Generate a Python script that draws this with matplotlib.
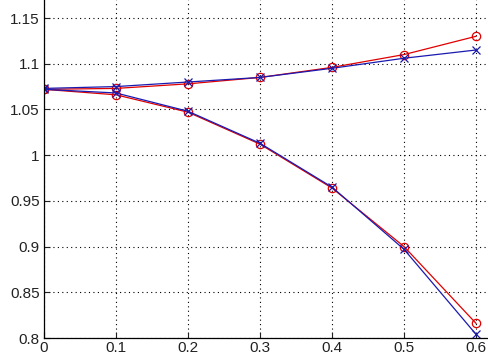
import matplotlib
matplotlib.use("Agg")
import matplotlib.pyplot as plt
from matplotlib.ticker import FuncFormatter

x = [0, 0.1, 0.2, 0.3, 0.4, 0.5, 0.6]
upper_red = [1.072, 1.073, 1.078, 1.085, 1.096, 1.110, 1.130]
upper_blue = [1.073, 1.075, 1.080, 1.085, 1.095, 1.106, 1.115]
lower_red = [1.072, 1.066, 1.047, 1.012, 0.964, 0.900, 0.816]
lower_blue = [1.072, 1.068, 1.048, 1.013, 0.965, 0.897, 0.804]
xticks = [0, 0.1, 0.2, 0.3, 0.4, 0.5, 0.6]
yticks = [0.8, 0.85, 0.9, 0.95, 1.0, 1.05, 1.1, 1.15]

plt.rcParams['font.family'] = ['Liberation Sans', 'DejaVu Sans']

fig = plt.figure(figsize=(4.89, 3.56), dpi=100)
ax = fig.add_axes([44/489, 18/356, 445/489, 338/356])

for ys in (upper_red, lower_red):
    ax.plot(x, ys, color='#e00000', lw=0.9, marker='o', ms=6, mfc='none', mec='#e00000', mew=0.9)
for ys in (upper_blue, lower_blue):
    ax.plot(x, ys, color='#1a1ab0', lw=0.9, marker='x', ms=6, mec='#1a1ab0', mew=0.9)

ax.set_xlim(0, 0.618)
ax.set_ylim(0.8, 1.1697)
ax.set_xticks(xticks)
ax.set_yticks(yticks)
fmt = FuncFormatter(lambda v, p: ('%g' % round(v, 4)))
ax.xaxis.set_major_formatter(fmt)
ax.yaxis.set_major_formatter(fmt)
ax.grid(True, color='black', linestyle=(0, (1, 3)), linewidth=0.8)
ax.tick_params(direction='in', length=4, labelsize=11, colors='#222222', width=0.8)
ax.tick_params(axis='y', pad=3)
ax.tick_params(axis='x', pad=2)
for s in ('top', 'right'):
    ax.spines[s].set_visible(False)
for s in ('left', 'bottom'):
    ax.spines[s].set_linewidth(0.9)

fig.savefig('out.png', dpi=100)
